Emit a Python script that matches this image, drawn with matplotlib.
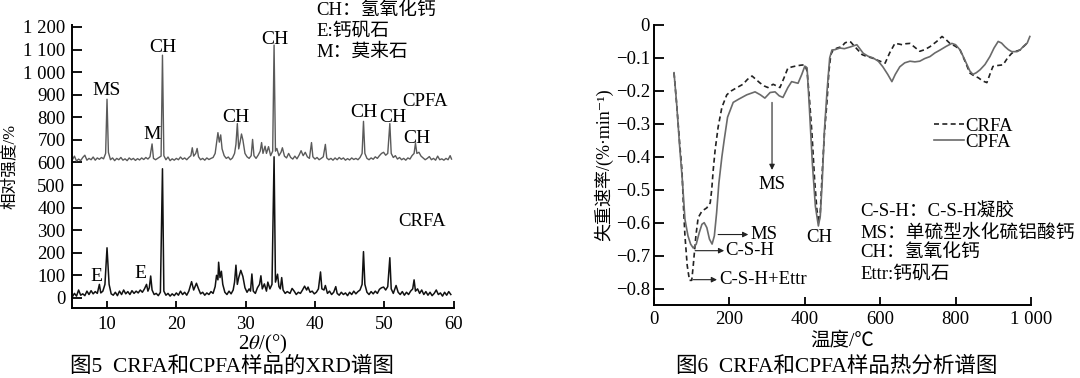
import matplotlib
matplotlib.use('Agg')
import matplotlib.pyplot as plt

plt.rcParams['font.family'] = ['Liberation Serif', 'Noto Sans CJK SC', 'DejaVu Sans']
plt.rcParams['mathtext.fontset'] = 'stix'
FAM = ['Liberation Serif', 'Noto Sans CJK SC', 'DejaVu Sans']

# XRD (figure 5)
cpfa_2t = [5.0, 5.3, 5.6, 5.9, 6.2, 6.5, 6.8, 7.1, 7.4, 7.7, 8.0, 8.3, 8.6, 8.9, 9.2, 9.5, 9.8, 10.0, 10.2, 10.5,
           10.8, 11.1, 11.4, 11.7, 12.0, 12.3, 12.6, 12.9, 13.2, 13.5, 13.8, 14.1, 14.4, 14.7, 15.0, 15.3, 15.6, 15.9,
           16.2, 16.5, 16.7, 17.0, 17.4, 17.8, 18.0, 18.2, 18.5, 18.8, 19.1, 19.4, 19.7, 20.0, 20.3, 20.6, 20.9, 21.2,
           21.5, 21.8, 22.1, 22.3, 22.5, 22.8, 23.0, 23.2, 23.5, 23.8, 24.1, 24.4, 24.7, 25.0, 25.3, 25.6, 25.8, 26.0,
           26.2, 26.4, 26.6, 26.9, 27.2, 27.5, 27.8, 28.1, 28.4, 28.6, 28.8, 29.0, 29.2, 29.4, 29.6, 29.9, 30.2, 30.5,
           30.8, 31.0, 31.2, 31.5, 31.8, 32.1, 32.3, 32.5, 32.8, 33.0, 33.3, 33.6, 33.9, 34.1, 34.3, 34.5, 34.8, 35.1,
           35.3, 35.6, 35.9, 36.2, 36.5, 36.8, 37.1, 37.4, 37.7, 38.0, 38.3, 38.6, 38.9, 39.2, 39.5, 39.7, 40.0, 40.3,
           40.6, 40.9, 41.2, 41.5, 41.7, 42.0, 42.3, 42.6, 42.9, 43.2, 43.5, 43.8, 44.1, 44.4, 44.7, 45.0, 45.3, 45.6,
           45.9, 46.2, 46.5, 46.8, 47.0, 47.2, 47.5, 47.8, 48.1, 48.4, 48.7, 49.0, 49.3, 49.6, 49.9, 50.2, 50.5, 50.8,
           51.0, 51.3, 51.6, 51.9, 52.2, 52.5, 52.8, 53.1, 53.4, 53.7, 54.0, 54.3, 54.5, 54.7, 55.0, 55.3, 55.6, 55.9,
           56.2, 56.5, 56.8, 57.1, 57.4, 57.7, 58.0, 58.3, 58.6, 58.9, 59.2, 59.5, 59.7]
cpfa_int = [612, 628, 606, 615, 608, 622, 632, 610, 618, 612, 624, 610, 620, 614, 622, 616, 640, 880, 645, 612,
            620, 608, 618, 612, 622, 610, 616, 608, 620, 612, 618, 609, 617, 611, 620, 613, 622, 615,
            625, 682, 618, 612, 620, 628, 1075, 630, 612, 624, 608, 616, 610, 618, 612, 624, 614, 620,
            612, 622, 630, 665, 628, 640, 662, 625, 612, 618, 610, 620, 613, 618, 622, 640, 685, 732,
            690, 722, 660, 630, 618, 624, 612, 620, 640, 680, 772, 660, 690, 726, 700, 640, 625, 618,
            630, 702, 630, 618, 632, 650, 688, 640, 672, 640, 670, 630, 650, 1120, 650, 662, 630, 645,
            665, 628, 620, 640, 622, 615, 628, 616, 632, 652, 630, 645, 625, 618, 688, 625, 615, 622,
            612, 618, 625, 680, 620, 612, 618, 610, 620, 612, 622, 614, 620, 610, 617, 611, 620, 613,
            618, 612, 622, 640, 782, 640, 618, 612, 620, 614, 625, 618, 630, 640, 645, 632, 640, 772,
            640, 622, 630, 615, 622, 612, 618, 610, 620, 615, 630, 640, 685, 640, 645, 628, 620, 612,
            618, 626, 612, 618, 610, 628, 612, 616, 610, 618, 612, 630, 615]

crfa_2t = [5.0, 5.3, 5.6, 5.9, 6.2, 6.5, 6.8, 7.1, 7.4, 7.7, 8.0, 8.3, 8.6, 8.9, 9.1, 9.4, 9.7, 10.0, 10.3, 10.6,
           10.9, 11.2, 11.5, 11.8, 12.1, 12.4, 12.7, 13.0, 13.3, 13.6, 13.9, 14.2, 14.5, 14.8, 15.1, 15.4, 15.7, 15.9,
           16.1, 16.3, 16.5, 16.8, 17.1, 17.4, 17.7, 18.0, 18.2, 18.5, 18.8, 19.1, 19.4, 19.7, 20.0, 20.3, 20.6, 20.9,
           21.2, 21.5, 21.8, 22.2, 22.5, 22.9, 23.2, 23.5, 23.8, 24.1, 24.4, 24.7, 25.0, 25.3, 25.6, 25.8, 26.0, 26.1,
           26.3, 26.5, 26.7, 27.0, 27.3, 27.6, 27.9, 28.2, 28.4, 28.6, 28.8, 29.0, 29.3, 29.6, 29.9, 30.2, 30.5, 30.7,
           30.9, 31.1, 31.4, 31.7, 32.0, 32.2, 32.4, 32.7, 33.0, 33.2, 33.5, 33.8, 34.1, 34.3, 34.6, 34.8, 35.0, 35.2,
           35.4, 35.7, 36.0, 36.4, 36.7, 37.0, 37.3, 37.6, 37.9, 38.2, 38.5, 38.8, 39.0, 39.3, 39.6, 39.9, 40.2, 40.5,
           40.8, 41.0, 41.3, 41.5, 41.8, 42.1, 42.4, 42.7, 43.0, 43.2, 43.5, 43.8, 44.1, 44.4, 44.7, 45.0, 45.3, 45.6,
           45.9, 46.2, 46.5, 46.8, 47.0, 47.2, 47.5, 47.8, 48.1, 48.4, 48.7, 49.0, 49.3, 49.6, 49.9, 50.2, 50.5, 50.8,
           51.0, 51.3, 51.7, 52.0, 52.3, 52.6, 52.9, 53.2, 53.5, 53.8, 54.1, 54.3, 54.5, 54.8, 55.1, 55.4, 55.7, 56.0,
           56.3, 56.6, 56.9, 57.2, 57.5, 57.8, 58.1, 58.4, 58.7, 59.0, 59.3, 59.6]
crfa_int = [5, 20, 8, 35, 12, 18, 10, 30, 15, 32, 18, 28, 20, 60, 22, 30, 60, 222, 60, 18,
            12, 25, 10, 30, 15, 35, 18, 28, 15, 32, 20, 30, 22, 35, 25, 40, 60, 30,
            45, 97, 35, 15, 20, 10, 25, 572, 30, 12, 20, 8, 18, 10, 22, 12, 30, 15,
            25, 12, 30, 72, 35, 65, 40, 18, 25, 12, 22, 15, 28, 20, 50, 100, 80, 158,
            90, 118, 60, 25, 15, 30, 18, 35, 70, 145, 60, 90, 122, 95, 45, 25, 40, 30,
            106, 30, 20, 45, 60, 98, 40, 62, 30, 70, 40, 60, 625, 70, 105, 50, 40, 90,
            35, 20, 28, 20, 42, 30, 15, 25, 20, 35, 52, 35, 48, 25, 30, 18, 25, 40,
            115, 40, 35, 55, 20, 30, 15, 25, 50, 20, 12, 25, 15, 22, 10, 25, 15, 30,
            18, 28, 35, 60, 205, 60, 25, 15, 28, 18, 30, 20, 38, 45, 48, 35, 50, 178,
            40, 20, 55, 25, 15, 28, 12, 25, 15, 30, 40, 80, 30, 40, 20, 35, 15, 28,
            12, 25, 10, 20, 35, 15, 22, 8, 25, 12, 28, 15]

xrd_peak_labels = ['MS', 'M', 'CH', 'CH', 'CH', 'CH', 'CH', 'CH', 'E', 'E']
xrd_peak_x = [10.0, 16.5, 18.0, 28.6, 34.2, 47.0, 51.2, 54.7, 8.5, 14.8]
xrd_peak_y = [920, 722, 1110, 800, 1146, 820, 801, 708, 93, 106]

# thermal analysis (figure 6)
crfa_T = [53, 60, 68, 74, 78, 82, 88, 94, 100, 104, 111, 117, 127, 140, 149, 153, 157, 162, 170, 180,
          193, 205, 220, 236, 248, 260, 270, 281, 292, 302, 316, 325, 334, 345, 355, 367, 379, 390, 400, 406,
          412, 419, 426, 432, 437, 441, 446, 452, 459, 464, 469, 475, 486, 498, 506, 515, 522, 528, 540, 552,
          565, 578, 595, 613, 625, 639, 650, 658, 668, 679, 692, 705, 718, 732, 750, 764, 775, 785, 800, 812,
          825, 838, 850, 860, 872, 883, 891, 899, 912, 926, 938, 949, 960, 971, 980, 989]
crfa_rate = [-0.145, -0.24, -0.36, -0.44, -0.55, -0.64, -0.73, -0.775, -0.775, -0.73, -0.64, -0.585, -0.565,
             -0.555, -0.54, -0.5, -0.44, -0.38, -0.31, -0.25, -0.212, -0.2, -0.19, -0.18, -0.165, -0.155,
             -0.165, -0.176, -0.185, -0.19, -0.18, -0.185, -0.19, -0.16, -0.131, -0.127, -0.124, -0.122,
             -0.121, -0.14, -0.22, -0.33, -0.47, -0.56, -0.6, -0.57, -0.45, -0.33, -0.23, -0.14, -0.09,
             -0.076, -0.07, -0.066, -0.055, -0.05, -0.052, -0.06, -0.075, -0.09, -0.096, -0.1, -0.108,
             -0.116, -0.085, -0.056, -0.058, -0.06, -0.057, -0.056, -0.068, -0.08, -0.075, -0.066, -0.05,
             -0.035, -0.045, -0.056, -0.065, -0.076, -0.11, -0.146, -0.155, -0.16, -0.17, -0.175, -0.15,
             -0.126, -0.123, -0.121, -0.1, -0.086, -0.08, -0.076, -0.066, -0.056]

cpfa_T = [53, 60, 68, 75, 82, 90, 97, 104, 112, 120, 127, 133, 140, 147, 154, 160, 166, 172, 180, 186,
          195, 210, 225, 246, 268, 282, 294, 308, 321, 332, 342, 355, 365, 382, 392, 400, 406, 412, 420, 428,
          436, 441, 446, 452, 459, 466, 472, 480, 493, 505, 520, 538, 555, 568, 581, 595, 607, 620, 631, 640,
          652, 665, 679, 692, 705, 718, 732, 745, 759, 775, 790, 800, 812, 822, 830, 838, 846, 855, 865, 878,
          891, 902, 913, 922, 931, 940, 949, 963, 972, 979, 990, 997]
cpfa_rate = [-0.145, -0.24, -0.37, -0.47, -0.59, -0.64, -0.665, -0.677, -0.665, -0.63, -0.605, -0.6, -0.615,
             -0.65, -0.665, -0.64, -0.57, -0.48, -0.4, -0.35, -0.28, -0.235, -0.225, -0.212, -0.203, -0.212,
             -0.222, -0.205, -0.203, -0.215, -0.22, -0.19, -0.172, -0.177, -0.15, -0.125, -0.13, -0.25,
             -0.42, -0.55, -0.61, -0.58, -0.48, -0.32, -0.2, -0.1, -0.076, -0.075, -0.07, -0.072, -0.067,
             -0.06, -0.086, -0.095, -0.1, -0.11, -0.127, -0.15, -0.172, -0.15, -0.127, -0.115, -0.11,
             -0.112, -0.11, -0.102, -0.096, -0.085, -0.076, -0.065, -0.056, -0.06, -0.076, -0.1, -0.12,
             -0.14, -0.15, -0.145, -0.136, -0.12, -0.096, -0.07, -0.05, -0.055, -0.066, -0.075, -0.081,
             -0.081, -0.075, -0.066, -0.055, -0.035]

notes_xrd = ['CH：氢氧化钙', 'E:钙矾石', 'M：莫来石']
notes_tg = ['C-S-H：C-S-H凝胶', 'MS：单硫型水化硫铝酸钙', 'CH：氢氧化钙', 'Ettr:钙矾石']


def style_axes(ax):
    for s in ['top', 'right']:
        ax.spines[s].set_visible(False)
    for s in ['left', 'bottom']:
        ax.spines[s].set_linewidth(1.4)
    ax.tick_params(direction='in', width=1.3, labelsize=13.5)
    for lab in ax.get_xticklabels() + ax.get_yticklabels():
        lab.set_family(FAM)


fig = plt.figure(figsize=(10.8, 3.78), dpi=100)

# ---------------- left: XRD ----------------
ax1 = fig.add_axes([0.067, 0.185, 0.353, 0.749])
ax1.plot(crfa_2t, crfa_int, color='#111111', lw=1.1)
ax1.plot(cpfa_2t, cpfa_int, color='#5a5a5a', lw=1.0)
ax1.set_xlim(5, 60)
ax1.set_ylim(-45, 1209)
yt = list(range(0, 1300, 100))
ax1.set_yticks(yt)
ax1.set_yticklabels(['{:,}'.format(v).replace(',', ' ') for v in yt])
ax1.set_xticks([10, 20, 30, 40, 50, 60])
style_axes(ax1)
ax1.tick_params(axis='y', length=7, pad=5)
ax1.tick_params(axis='x', length=5, pad=6)
for lab, x, y in zip(xrd_peak_labels, xrd_peak_x, xrd_peak_y):
    ax1.text(x, y, lab, ha='center', va='center', fontsize=14, family=FAM)
ax1.text(0.985, 0.73, 'CPFA', transform=ax1.transAxes, ha='right', va='center', fontsize=13.5, family=FAM)
ax1.text(0.98, 0.305, 'CRFA', transform=ax1.transAxes, ha='right', va='center', fontsize=13.5, family=FAM)
ax1.set_xlabel('2$\\theta$/(°)', fontsize=15, labelpad=0)
ax1.set_ylabel('相对强度/%', fontsize=12, family=FAM, labelpad=4)
for i, t in enumerate(notes_xrd):
    fig.text(316 / 1080, 1 - (11 + 20.5 * i) / 378, t, ha='left', va='center', fontsize=13.5, family=FAM)
fig.text(232 / 1080, 1 - 367 / 378, '图5  CRFA和CPFA样品的XRD谱图', ha='center', va='center',
         fontsize=15.5, family=FAM)

# ---------------- right: thermal analysis ----------------
ax2 = fig.add_axes([0.6056, 0.193, 0.349, 0.741])
ax2.plot(crfa_T, crfa_rate, color='#222222', lw=1.2, linestyle=(0, (3, 2)), label='CRFA')
ax2.plot(cpfa_T, cpfa_rate, color='#6a6a6a', lw=1.2, label='CPFA')
ax2.set_xlim(0, 1000)
ax2.set_ylim(-0.85, 0)
xt = [0, 200, 400, 600, 800, 1000]
ax2.set_xticks(xt)
ax2.set_xticklabels(['{:,}'.format(v).replace(',', ' ') for v in xt])
ytr = [0, -0.1, -0.2, -0.3, -0.4, -0.5, -0.6, -0.7, -0.8]
ax2.set_yticks(ytr)
ax2.set_yticklabels(['0' if v == 0 else '{:.1f}'.format(v).replace('-', '\u2212') for v in ytr])
style_axes(ax2)
ax2.tick_params(axis='y', length=7, pad=3)
ax2.tick_params(axis='x', length=6, pad=4)
ax2.set_xlabel('温度/℃', fontsize=14, family=FAM, labelpad=3)
ax2.set_ylabel('失重速率/(%·min⁻¹)', fontsize=13, family=FAM, labelpad=2)
leg = ax2.legend(loc='upper left', bbox_to_anchor=(0.742, 0.67), frameon=False, fontsize=13.5,
                 handlelength=1.6, handletextpad=0.1, labelspacing=-0.05, borderpad=0, borderaxespad=0)
for t in leg.get_texts():
    t.set_family(FAM)

arr = dict(arrowstyle='-|>', color='#222222', lw=0.8, mutation_scale=8, shrinkA=0, shrinkB=0)
ax2.annotate('', xy=(313, -0.44), xytext=(313, -0.235), arrowprops=arr)
ax2.text(313, -0.485, 'MS', ha='center', va='center', fontsize=13.5, family=FAM)
ax2.text(438, -0.645, 'CH', ha='center', va='center', fontsize=13.5, family=FAM)
ax2.annotate('', xy=(250, -0.636), xytext=(170, -0.636), arrowprops=arr)
ax2.text(255, -0.636, 'MS', ha='left', va='center', fontsize=13.5, family=FAM)
ax2.annotate('', xy=(186, -0.685), xytext=(109, -0.685), arrowprops=arr)
ax2.text(188, -0.685, 'C-S-H', ha='left', va='center', fontsize=13.5, family=FAM)
ax2.annotate('', xy=(167, -0.773), xytext=(104, -0.773), arrowprops=arr)
ax2.text(172, -0.773, 'C-S-H+Ettr', ha='left', va='center', fontsize=13.5, family=FAM)
for t, yy in zip(notes_tg, [212, 233, 253, 275]):
    fig.text(860 / 1080, 1 - yy / 378, t, ha='left', va='center', fontsize=13.5, family=FAM)
fig.text(837 / 1080, 1 - 367 / 378, '图6  CRFA和CPFA样品热分析谱图', ha='center', va='center',
         fontsize=15.5, family=FAM)

fig.savefig('out.png', dpi=100)
